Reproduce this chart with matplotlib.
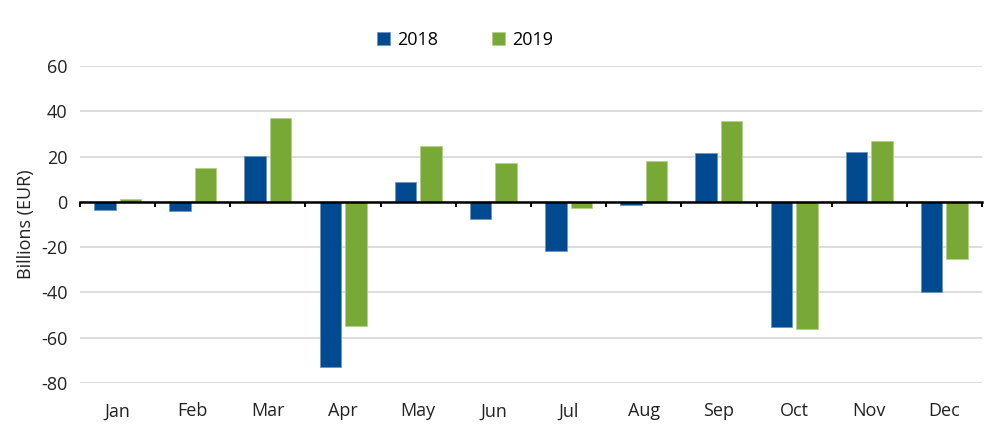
import numpy as np
from matplotlib import pyplot as plt

plt.rcParams['font.family'] = ['Open Sans', 'DejaVu Sans']

months = ['Jan', 'Feb', 'Mar', 'Apr', 'May', 'Jun', 'Jul', 'Aug', 'Sep', 'Oct', 'Nov', 'Dec']
vals_2018 = [-3.4, -3.9, 20.4, -72.8, 8.6, -7.7, -21.5, -1.4, 21.7, -55.4, 22.0, -40.0]
vals_2019 = [1.4, 14.9, 36.9, -54.7, 24.6, 17.0, -2.7, 17.9, 35.7, -56.0, 26.7, -25.4]
yticks = [-80, -60, -40, -20, 0, 20, 40, 60]

blue = '#004A8F'
green = '#78A936'

fig = plt.figure(figsize=(10, 4.48), dpi=100)
ax = fig.add_axes([0.08, 0.1451, 0.902, 0.7076])

x = np.arange(len(months))
w = 0.286
ax.bar(x - 0.17, vals_2018, w, color=blue, edgecolor='#6f95c4', linewidth=0.6, label='2018', zorder=3)
ax.bar(x + 0.17, vals_2019, w, color=green, edgecolor='#b5d18a', linewidth=0.6, label='2019', zorder=3)

ax.set_xlim(-0.5, 11.5)
ax.set_ylim(-80, 60)
ax.set_yticks(yticks)
ax.set_yticklabels([str(v) for v in yticks])
ax.tick_params(axis='y', length=0, pad=9, labelsize=13, colors='#222222')
ax.yaxis.grid(True, color='#d3d3d3', linewidth=1.1, zorder=0)
ax.set_axisbelow(True)
ax.set_ylabel('Billions (EUR)', fontsize=13, color='#222222', labelpad=4)

for s in ['left', 'right', 'top']:
    ax.spines[s].set_visible(False)

# ligne du zero avec petits ticks entre les mois
ax.spines['bottom'].set_position(('data', 0))
ax.spines['bottom'].set_linewidth(1.8)
ax.spines['bottom'].set_zorder(4)
ax.set_xticks(np.arange(-0.5, 12, 1))
ax.set_xticklabels([])
ax.tick_params(axis='x', length=3.5, width=1.4, direction='out')

sec = ax.secondary_xaxis('bottom')
sec.set_xticks(x)
sec.set_xticklabels(months)
sec.spines['bottom'].set_visible(False)
sec.tick_params(length=0, pad=14, labelsize=13, colors='#222222')

fig.legend(loc='center', bbox_to_anchor=(0.465, 1 - 40 / 448), ncol=2, frameon=False,
           fontsize=13, handlelength=0.72, handleheight=0.72, handletextpad=0.4,
           columnspacing=3.0)

plt.savefig('out.png', dpi=100)
